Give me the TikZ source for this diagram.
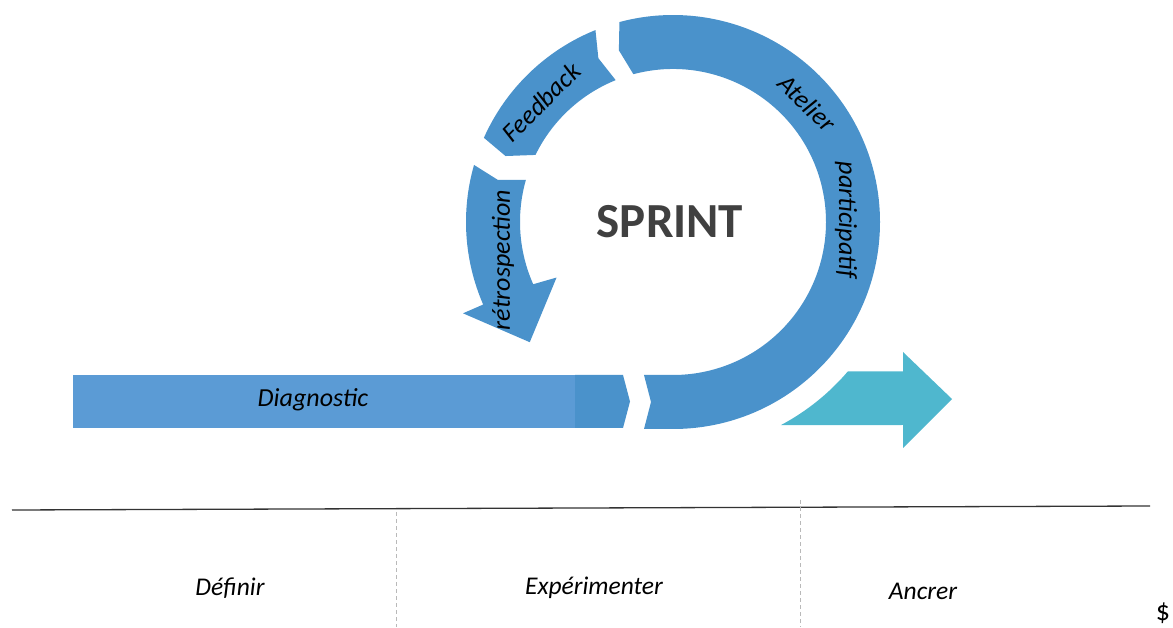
\documentclass[tikz,border=0pt]{standalone}
\usepackage{fontspec}
\setmainfont{Carlito}
\usepackage{tikz}
\definecolor{sprintblue}{HTML}{4A92CB}
\definecolor{diagblue}{HTML}{5B9BD5}
\definecolor{ancrerteal}{HTML}{4FB7CE}
\definecolor{sprintgray}{HTML}{404040}
\tikzset{
  % segments de l'anneau
  ring part/.style={fill=sprintblue},
  % textes sur les fleches
  arrow label/.style={font=\fontsize{26}{28}\selectfont\itshape, inner sep=0pt},
  % textes des phases
  phase label/.style={font=\fontsize{25.5}{27}\selectfont\itshape, inner sep=0pt},
  phase sep/.style={gray!55, line width=0.6pt, dash pattern=on 4pt off 3pt}
}

\begin{document}
\begin{tikzpicture}[x=1pt, y=1pt]
    \useasboundingbox (0,0) rectangle (1173,627);
    \coordinate (C) at (673,405);

    % Barre Diagnostic
    \fill[diagblue] (73,199) rectangle (575,252);
    \fill[sprintblue] (575,199) -- (575,252) -- (623,252) -- (630,225.5) -- (623,199) -- cycle;
    \node[arrow label] (diag) at (313,227) {Diagnostic};

    \begin{scope}[shift={(C)}]
      % Atelier participatif
      \fill[ring part] (-29,-207) -- (0,-207) arc (270:465:207) -- (107.5:180)
        -- (105:153) arc (465:270:153) -- (-29,-153) -- (-22,-180) -- cycle;
      % Feedback
      \fill[ring part] (112:207) arc (112:156:207) -- (158.5:180)
        -- (154:153) arc (154:112:153) -- (114.5:180) -- cycle;
      % retrospection
      \fill[ring part] (164:207) arc (164:203.5:207) -- (203.5:229) -- (220:187)
        -- (205.5:129) -- (204:153) arc (204:164:153) -- (166.5:180) -- cycle;
      % fleche vers Ancrer
      \fill[ancrerteal] (-62:230) arc (-62:-40.5:230) -- (230,-149.4) -- (230,-130)
        -- (279,-177) -- (230,-226) -- (230,-203) -- cycle;
    \end{scope}

    \node[font=\fontsize{49}{50}\selectfont\bfseries, text=sprintgray] (sprint) at (670,405) {SPRINT};
    \node[arrow label, rotate=45] (feedback) at (541,525) {Feedback};
    \node[arrow label, rotate=-44] (atelier) at (807,524) {Atelier};
    \node[arrow label, rotate=-90] (particip) at (846,407) {participatif};
    \node[arrow label, rotate=90] (retro) at (503,367) {rétrospection};

    % axe des phases
    \coordinate (axeG) at (12,117);
    \coordinate (axeD) at (1150,121);
    \draw[black!80, line width=1.3pt] (axeG) -- (axeD);
    \draw[phase sep] (396,115) -- (396,0);
    \draw[phase sep] (800,127) -- (800,0);

    \node[phase label] (definir) at (230,39) {Définir};
    \node[phase label] (experim) at (594,39) {Expérimenter};
    \node[phase label] (ancrer) at (923,36) {Ancrer};
    \node[font=\fontsize{28}{30}\selectfont, inner sep=0pt] (dollar) at (1163,14) {\$};
  \end{tikzpicture}
\end{document}
